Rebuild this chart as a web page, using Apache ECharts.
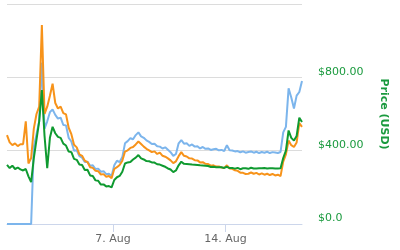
<!DOCTYPE html>
<html>
<head>
<meta charset="utf-8">
<script src="https://cdn.jsdelivr.net/npm/echarts@6/dist/echarts.min.js"></script>
<style>
html,body{margin:0;padding:0;background:#fff;}
#chart{width:400px;height:250px;}
</style>
</head>
<body>
<div id="chart"></div>
<script>
// time: day-of-August (1 = Aug 1 00:00), one sample every 4 hours starting Jul 31 10:00
const startDay = 10/24;
const stepDay = 4/24;
const xTickDays = [7, 14];
const yTicks = [0, 400, 800, 1200];

const blueSeries = [
  0,0,0,0,0,0,0,0,0,0,
  420,490,560,880,520,560,610,625,595,575,
  580,540,538,470,450,400,402,370,362,338,
  340,318,320,300,302,285,288,272,274,262,
  320,345,338,365,440,452,468,462,485,500,
  478,470,456,448,436,438,424,422,412,418,
  405,392,372,382,440,458,438,440,426,434,
  422,424,412,420,410,412,404,408,410,402,
  404,398,430,402,401,396,398,391,396,389,
  393,396,389,394,387,393,389,394,387,392,
  390,387,393,500,530,740,690,630,700,720,
  780
];
const orangeSeries = [
  485,445,430,440,425,435,435,560,330,360,
  520,600,640,1085,600,640,700,765,660,630,
  640,605,598,525,490,432,418,380,372,345,
  338,310,306,290,288,270,272,258,262,250,
  300,310,322,345,395,402,415,420,434,450,
  436,422,410,402,392,396,382,389,372,367,
  358,347,332,342,370,392,372,368,358,357,
  348,347,336,337,328,327,318,320,313,314,
  308,306,320,303,301,293,290,280,279,273,
  274,281,274,279,270,276,269,274,267,273,
  265,269,261,340,380,455,430,420,445,550,
  530
];
const greenSeries = [
  322,305,318,300,308,298,292,300,260,229,
  360,460,560,731,480,305,470,530,495,475,
  470,438,428,395,392,355,350,325,322,295,
  296,265,262,238,236,215,216,205,207,200,
  240,255,262,285,330,336,338,352,362,376,
  358,352,343,342,336,335,326,324,318,312,
  303,297,283,292,320,340,328,327,326,324,
  323,322,320,319,318,316,311,312,310,309,
  309,306,312,305,306,302,306,299,304,304,
  301,307,303,303,304,304,305,303,304,304,
  303,303,304,360,400,510,470,455,480,580,
  556
];

function pairs(arr){ return arr.map((v,i)=>[startDay + i*stepDay, v]); }
const lastDay = startDay + (blueSeries.length-1)*stepDay;

const chart = echarts.init(document.getElementById('chart'), null, {renderer:'canvas'});
const font = 'DejaVu Sans';
chart.setOption({
  animation:false,
  backgroundColor:'#ffffff',
  grid:{left:7,right:98,top:4,bottom:26},
  xAxis:{
    type:'value', min:startDay, max:lastDay,
    axisLine:{show:true,lineStyle:{color:'#ccd6eb',width:1}},
    axisTick:{show:true,length:8,customValues:xTickDays,lineStyle:{color:'#ccd6eb'}},
    axisLabel:{customValues:xTickDays,margin:10,color:'#666666',fontFamily:font,fontSize:11,
      formatter:v=>Math.round(v)+'. Aug'},
    splitLine:{show:false}
  },
  yAxis:{
    type:'value', position:'right', min:0, max:1200, interval:400,
    name:'Price (USD)', nameLocation:'middle', nameRotate:-90, nameGap:76,
    nameTextStyle:{color:'#1a9a3e',fontFamily:font,fontSize:11,fontWeight:'bold'},
    axisLine:{show:false}, axisTick:{show:false},
    axisLabel:{margin:16,color:'#1a9a3e',fontFamily:font,fontSize:11,verticalAlign:'bottom',
      formatter:v=> v===0 ? '$0.0' : (v>=1200 ? '' : '$'+v.toFixed(2))},
    splitLine:{show:true,lineStyle:{color:'#dcdcdc',width:1}}
  },
  series:[
    {type:'line',data:pairs(blueSeries),showSymbol:false,symbol:'none',lineStyle:{color:'#7cb5ec',width:2},itemStyle:{color:'#7cb5ec'},z:2},
    {type:'line',data:pairs(orangeSeries),showSymbol:false,symbol:'none',lineStyle:{color:'#f7931a',width:2},itemStyle:{color:'#f7931a'},z:3},
    {type:'line',data:pairs(greenSeries),showSymbol:false,symbol:'none',lineStyle:{color:'#0f9a30',width:2},itemStyle:{color:'#0f9a30'},z:4}
  ]
});
</script>
</body>
</html>
